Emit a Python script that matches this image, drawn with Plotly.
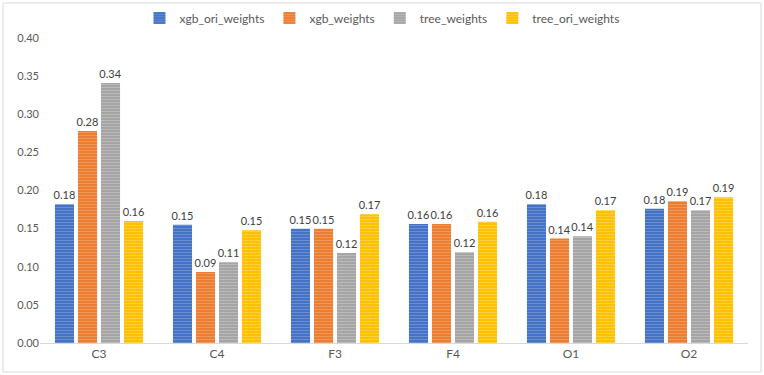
import plotly.graph_objects as go

categories = ["C3", "C4", "F3", "F4", "O1", "O2"]
xgb_ori_weights = [0.182, 0.155, 0.150, 0.156, 0.182, 0.176]
xgb_weights = [0.278, 0.093, 0.150, 0.156, 0.137, 0.186]
tree_weights = [0.341, 0.106, 0.118, 0.119, 0.140, 0.174]
tree_ori_weights = [0.160, 0.148, 0.169, 0.159, 0.174, 0.191]

series = [
    ("xgb_ori_weights", xgb_ori_weights, "#4472C4", "#8FAADC"),
    ("xgb_weights", xgb_weights, "#ED7D31", "#F4B183"),
    ("tree_weights", tree_weights, "#A5A5A5", "#D0D0D0"),
    ("tree_ori_weights", tree_ori_weights, "#FFC000", "#FFE07A"),
]

fig = go.Figure()
for name, vals, col, light in series:
    fig.add_trace(go.Bar(
        x=categories, y=vals, name=name,
        marker=dict(color=col, line=dict(width=0),
                    pattern=dict(shape="-", fgcolor=light, bgcolor=col, size=3, solidity=0.35, fillmode="overlay")),
        text=[f"{v:.2f}" for v in vals], textposition="outside", constraintext="none",
        textfont=dict(family="Lato, sans-serif", size=11, color="#404040"),
        cliponaxis=False,
    ))

W, H = 764, 375
ml, mr, mt, mb = 40, 16, 38, 32
pw, ph = W - ml - mr, H - mt - mb
fig.add_shape(type="rect", xref="paper", yref="paper",
              x0=(3 - ml) / pw, x1=(W - 3 - ml) / pw,
              y0=-(H - 3 - mt - ph) / ph, y1=1 + (mt - 3) / ph,
              line=dict(color="#D9D9D9", width=1), layer="below")

fig.update_layout(
    width=W, height=H, margin=dict(l=ml, r=mr, t=mt, b=mb, autoexpand=False),
    paper_bgcolor="white", plot_bgcolor="white",
    barmode="group", bargap=0.22, bargroupgap=0.17,
    font=dict(family="Lato, Open Sans, sans-serif", size=11, color="#595959"),
    legend=dict(orientation="h", x=0.5, xanchor="center", xref="container",
                y=(H - 18) / H, yanchor="middle", yref="container",
                bgcolor="rgba(0,0,0,0)",
                font=dict(size=12, color="#595959"), traceorder="normal"),
)
fig.update_yaxes(range=[0, 0.40], dtick=0.05, tickformat=".2f", showgrid=False,
                 zeroline=False, showline=False, ticks="", tickfont=dict(size=11, color="#595959"))
fig.update_xaxes(showline=True, linecolor="#D9D9D9", linewidth=1, ticks="",
                 tickfont=dict(size=12, color="#595959"))

fig.write_html("out.html")
